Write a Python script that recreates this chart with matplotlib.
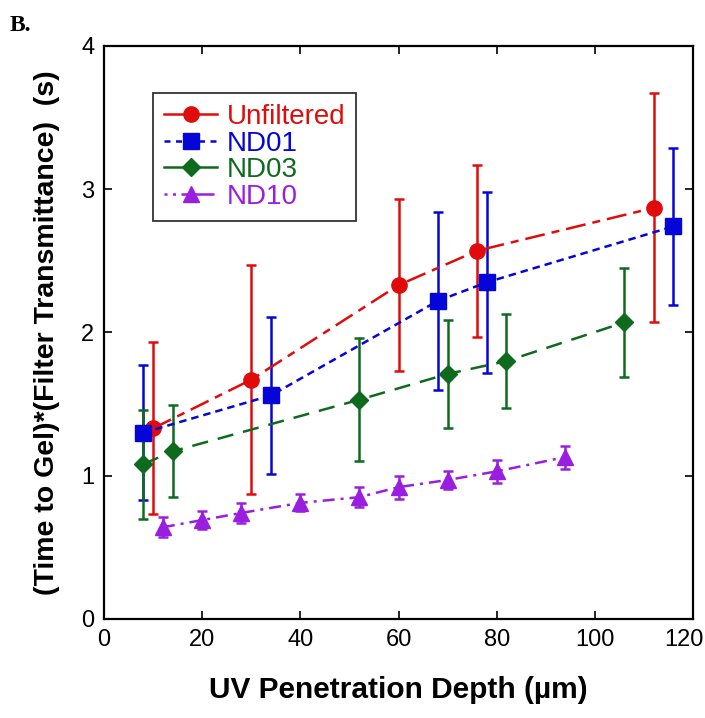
import matplotlib
matplotlib.use("Agg")
import matplotlib.pyplot as plt
import matplotlib.transforms as mtransforms
from matplotlib.lines import Line2D

plt.rcParams['font.family'] = ['Liberation Sans', 'DejaVu Sans']

unf_x = [10, 30, 60, 76, 112]
unf_y = [1.33, 1.67, 2.33, 2.57, 2.87]
unf_e = [0.60, 0.80, 0.60, 0.60, 0.80]

nd01_x = [8, 34, 68, 78, 116]
nd01_y = [1.30, 1.56, 2.22, 2.35, 2.74]
nd01_e = [0.47, 0.55, 0.62, 0.63, 0.55]

nd03_x = [8, 14, 52, 70, 82, 106]
nd03_y = [1.08, 1.17, 1.53, 1.71, 1.80, 2.07]
nd03_e = [0.38, 0.32, 0.43, 0.38, 0.33, 0.38]

nd10_x = [12, 20, 28, 40, 52, 60, 70, 80, 94]
nd10_y = [0.64, 0.69, 0.74, 0.81, 0.85, 0.92, 0.97, 1.03, 1.13]
nd10_e = [0.07, 0.06, 0.07, 0.06, 0.07, 0.08, 0.06, 0.08, 0.08]

x_ticks = [0, 20, 40, 60, 80, 100, 120]
y_ticks = [0, 1, 2, 3, 4]

fig = plt.figure(figsize=(7.05, 7.18), dpi=100)
ax = fig.add_axes([0.1475, 0.138, 0.8355, 0.798])

series = [
    ("Unfiltered", unf_x, unf_y, unf_e, "#e00c0c", "o", (0, (8, 2.8, 3.2, 2.8)), '-'),
    ("ND01", nd01_x, nd01_y, nd01_e, "#0505d8", "s", (0, (3.0, 2.0)), (0, (2.4, 2.2))),
    ("ND03", nd03_x, nd03_y, nd03_e, "#0e6b1e", "D", (0, (6.5, 4.0)), '-'),
    ("ND10", nd10_x, nd10_y, nd10_e, "#9a1ee0", "^", (0, (4.8, 2.4, 1.2, 2.4)), (0, (1.2, 2.2, 1.2, 2.2, 12, 0))),
]

handles = []
for name, x, y, e, c, m, ls, lls in series:
    ms = 11 if m != "D" else 9.5
    ax.errorbar(x, y, yerr=e, color=c, marker=m, markersize=ms,
                linestyle=ls, linewidth=1.8, elinewidth=1.8,
                capsize=3.5, capthick=1.8)
    handles.append(Line2D([], [], color=c, marker=m, markersize=ms,
                          linestyle=lls, linewidth=1.8))

ax.set_xlim(0, 120)
ax.set_ylim(0, 4)
ax.set_xticks(x_ticks)
ax.set_yticks(y_ticks)
ax.tick_params(direction='in', length=6, width=1.2, top=True, right=True,
               labelsize=17, pad=7)
for s in ax.spines.values():
    s.set_linewidth(1.6)

# keep the last x tick label inside the canvas
last = ax.get_xticklabels()[-1]
last.set_transform(last.get_transform() +
                   mtransforms.ScaledTranslation(-9 / 100, 0, fig.dpi_scale_trans))

ax.set_xlabel("UV Penetration Depth (µm)", fontsize=21.5, fontweight='bold', labelpad=18)
ax.set_ylabel("(Time to Gel)*(Filter Transmittance)  (s)", fontsize=20.5,
              fontweight='bold', labelpad=15)

leg = ax.legend(handles, [s[0] for s in series], loc='upper left',
                bbox_to_anchor=(153 / 705, 1 - 93 / 718),
                bbox_transform=fig.transFigure,
                fontsize=20, frameon=True, fancybox=False, edgecolor='black',
                handlelength=1.9, handletextpad=0.35, borderpad=0.4,
                labelspacing=0.02, borderaxespad=0)
leg.get_frame().set_linewidth(1.3)
for t, s in zip(leg.get_texts(), series):
    t.set_color(s[4])

fig.text(0.014, 0.965, "B.", fontsize=17, fontweight='bold',
         family=['Liberation Serif', 'DejaVu Serif'], va='center')

fig.savefig("out.png", dpi=100)
